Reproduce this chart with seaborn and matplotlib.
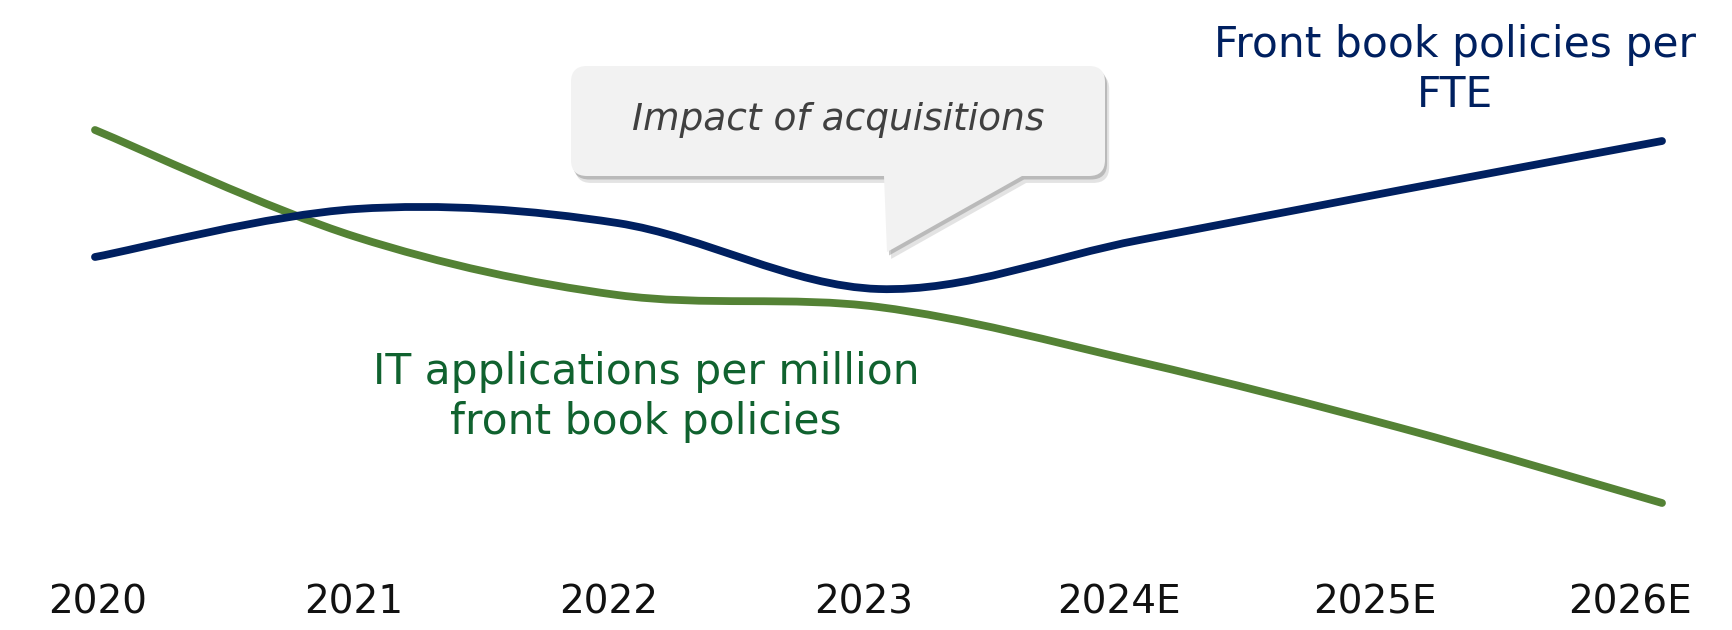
import numpy as np
import pandas as pd
import seaborn as sns
import matplotlib
matplotlib.use("Agg")
import matplotlib.pyplot as plt
from matplotlib.path import Path
from matplotlib.patches import PathPatch
import matplotlib.patheffects as pe

# ---- data (index values, arbitrary scale) ----
years = ["2020", "2021", "2022", "2023", "2024E", "2025E", "2026E"]
policies_per_fte = [34.3, 39.1, 37.7, 31.1, 36.0, 41.0, 45.9]
it_apps_per_million = [47.0, 36.3, 30.5, 29.3, 23.8, 17.2, 9.7]

label_fte = "Front book policies per\nFTE"
label_it = "IT applications per million\nfront book policies"
callout_text = "Impact of acquisitions"

NAVY = "#002060"
GREEN = "#548235"
GREEN_TEXT = "#10622F"

sns.set_theme(style="white")
plt.rcParams["font.family"] = ["DejaVu Sans"]

df = pd.DataFrame({
    "pos": np.arange(len(years)),
    "year": years,
    "fte": policies_per_fte,
    "it": it_apps_per_million,
})

W, H, DPI = 1732, 630, 100
fig = plt.figure(figsize=(W / DPI, H / DPI), dpi=DPI)
fig.patch.set_facecolor("white")

ax = fig.add_axes([0, 0, 1, 1])
ax.set_facecolor("none")


def smooth_path(xs, ys):
    """Cubic Bezier path through the points (spreadsheet-style smoothed line)."""
    pts = np.column_stack([xs, ys]).astype(float)
    n = len(pts)
    verts = [pts[0]]
    codes = [Path.MOVETO]
    for i in range(n - 1):
        p0 = pts[i - 1] if i > 0 else pts[i]
        p1, p2 = pts[i], pts[i + 1]
        p3 = pts[i + 2] if i + 2 < n else pts[i + 1]
        c1 = p1 + (p2 - p0) / 6.0
        c2 = p2 - (p3 - p1) / 6.0
        verts += [c1, c2, p2]
        codes += [Path.CURVE4] * 3
    return Path(verts, codes)


# invisible seaborn pass registers the series on the axes
sns.lineplot(data=df, x="pos", y="fte", ax=ax, linewidth=0, legend=False)
sns.lineplot(data=df, x="pos", y="it", ax=ax, linewidth=0, legend=False)

for col, color in (("it", GREEN), ("fte", NAVY)):
    patch = PathPatch(smooth_path(df["pos"], df[col]), facecolor="none",
                      edgecolor=color, linewidth=5.6, capstyle="round",
                      joinstyle="round", zorder=3)
    ax.add_patch(patch)

ax.set_xlim(-0.3637, 6.268)
ax.set_ylim(-3, 60)
ax.set_axis_off()
ax.set_xlabel("")
ax.set_ylabel("")

# category labels along the bottom
tick_ax = fig.add_axes([0, 0, 1, 1])
tick_ax.set_xlim(-0.3838, 6.3996)
tick_ax.set_ylim(H, 0)
tick_ax.set_axis_off()
for i, yr in enumerate(years):
    tick_ax.text(i, 602, yr, ha="center", va="center", fontsize=28,
                 color="#111111")

# overlay in pixel units for annotations
ov = fig.add_axes([0, 0, 1, 1])
ov.set_xlim(0, W)
ov.set_ylim(H, 0)
ov.set_axis_off()

ov.text(1455, 70, label_fte, ha="center", va="center", fontsize=30.5,
        color=NAVY, linespacing=1.25)
ov.text(646, 397, label_it, ha="center", va="center", fontsize=30.5,
        color=GREEN_TEXT, linespacing=1.25)

# speech-bubble callout
x0, x1, y0, y1, r = 571, 1105, 66, 176, 16
tail_l, tail_r, tip = 884, 1022, (887, 252)
verts = [
    (x0 + r, y0), (x1 - r, y0), (x1, y0), (x1, y0 + r),
    (x1, y1 - r), (x1, y1), (x1 - r, y1),
    (tail_r, y1), tip, (tail_l, y1),
    (x0 + r, y1), (x0, y1), (x0, y1 - r),
    (x0, y0 + r), (x0, y0), (x0 + r, y0),
    (x0 + r, y0),
]
codes = [
    Path.MOVETO, Path.LINETO, Path.CURVE3, Path.CURVE3,
    Path.LINETO, Path.CURVE3, Path.CURVE3,
    Path.LINETO, Path.LINETO, Path.LINETO,
    Path.LINETO, Path.CURVE3, Path.CURVE3,
    Path.LINETO, Path.CURVE3, Path.CURVE3,
    Path.CLOSEPOLY,
]
bubble = PathPatch(Path(verts, codes), facecolor="#F2F2F2", edgecolor="none",
                   zorder=5)
bubble.set_path_effects([
    pe.SimplePatchShadow(offset=(3, -5), shadow_rgbFace="#B0B0B0", alpha=0.35),
    pe.SimplePatchShadow(offset=(1.5, -2.5), shadow_rgbFace="#8A8A8A", alpha=0.45),
    pe.Normal(),
])
ov.add_patch(bubble)
ov.text((x0 + x1) / 2, 120, callout_text, ha="center", va="center",
        fontsize=27, style="italic", color="#404040", zorder=6)

fig.savefig("out.png", dpi=DPI, facecolor="white")
